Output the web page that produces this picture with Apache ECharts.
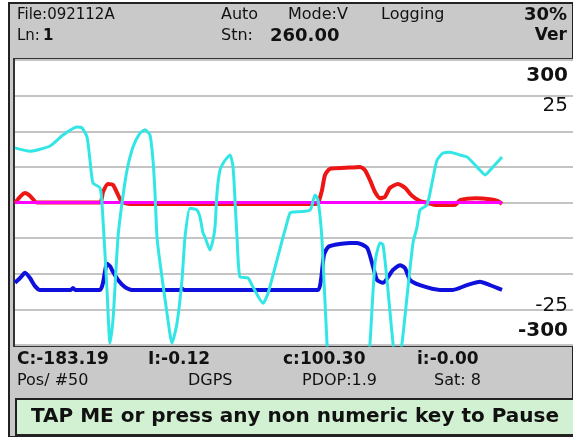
<!DOCTYPE html>
<html><head><meta charset="utf-8">
<script src="https://cdn.jsdelivr.net/npm/echarts@6/dist/echarts.min.js"></script>
<style>html,body{margin:0;padding:0;background:#fff}#c{width:573px;height:437px}</style>
</head><body><div id="c"></div><script>
// ---- data (x = sample position, y = reading) ----
const cyanData = [[0,115],[15,108],[35,119],[48,142],[62,159],[67,157],[72,138],[75,89],[78,41],[85,31],[87,-1],[92,-184],[95,-296],[98,-247],[103,-73],[107,-1],[112,68],[118,117],[125,146],[130,153],[135,142],[138,89],[140,20],[142,-73],[145,-127],[152,-233],[157,-296],[162,-254],[167,-163],[170,-73],[175,-12],[182,-16],[185,-31],[188,-64],[190,-73],[195,-100],[198,-79],[200,-52],[202,20],[205,68],[210,89],[215,100],[218,75],[220,5],[222,-73],[225,-157],[233,-159],[238,-178],[248,-212],[253,-191],[262,-121],[268,-73],[270,-58],[275,-22],[278,-20],[295,-16],[300,16],[303,5],[307,-79],[312,-296],[317,-415],[335,-458],[350,-415],[355,-296],[360,-127],[365,-85],[368,-89],[372,-163],[378,-296],[382,-350],[387,-296],[392,-199],[398,-85],[402,-52],[405,-16],[412,-5],[417,41],[422,89],[428,104],[435,106],[445,100],[452,96],[465,68],[470,58],[478,75],[487,96]];
const redData = [[0,-1],[5,12],[10,20],[15,14],[22,0],[85,0],[88,22],[93,39],[98,37],[103,16],[107,1],[115,-3],[300,-3],[303,-1],[307,26],[310,58],[315,71],[330,73],[345,75],[350,68],[355,47],[360,22],[365,9],[370,12],[375,31],[383,39],[390,31],[397,14],[405,3],[413,-1],[420,-5],[440,-5],[445,5],[460,9],[475,7],[483,3],[487,-3]];
const blueData = [[0,-169],[5,-159],[10,-148],[15,-159],[20,-176],[25,-184],[56,-184],[58,-180],[60,-184],[85,-184],[88,-169],[92,-129],[95,-134],[98,-146],[103,-163],[110,-178],[117,-184],[165,-184],[167,-181],[169,-184],[303,-184],[306,-163],[309,-110],[313,-94],[320,-89],[335,-85],[342,-85],[352,-95],[357,-127],[362,-163],[368,-169],[378,-142],[385,-132],[390,-138],[395,-163],[405,-174],[425,-184],[438,-184],[452,-174],[465,-167],[475,-174],[487,-184]];
const magentaData = [[0,0],[487,0]];
const yTicks = [300, 225, -225, -300];
const yTickText = ['300', '25', '-25', '-300'];
const topRow1 = ['File:092112A', 'Auto', 'Mode:V', 'Logging', '30%'];
const topRow2 = ['Ln:', '1', 'Stn:', '260.00', 'Ver'];
const statRow1 = ['C:-183.19', 'I:-0.12', 'c:100.30', 'i:-0.00'];
const statRow2 = ['Pos/ #50', 'DGPS', 'PDOP:1.9', 'Sat: 8'];
const banner = 'TAP ME or press any non numeric key to Pause';

const FONT = 'DejaVu Sans';
const chart = echarts.init(document.getElementById('c'), null, {renderer: 'canvas'});

function txt(t, x, y, size, bold, align) {
  return {type: 'text', z: 100, style: {text: t, x: x, y: y, fill: '#111',
    font: (bold ? 'bold ' : '') + size + 'px "' + FONT + '"',
    align: align || 'left', textAlign: align || 'left', verticalAlign: 'middle', textVerticalAlign: 'middle'}};
}

const bg = [
  {type: 'rect', z: -30, shape: {x: 9, y: 3, width: 564, height: 434}, style: {fill: '#c9c9c9', stroke: '#222', lineWidth: 2}},
  {type: 'rect', z: -20, shape: {x: 14, y: 59, width: 562, height: 287}, style: {fill: '#ffffff', stroke: '#333', lineWidth: 2}},
  {type: 'rect', z: -20, shape: {x: 16, y: 399, width: 560, height: 36}, style: {fill: '#d2f0d2', stroke: '#222', lineWidth: 2}}
];

const texts = [
  txt(topRow1[0], 17, 15, 15, false), txt(topRow1[1], 221, 15, 16, false), txt(topRow1[2], 288, 15, 16, false),
  txt(topRow1[3], 381, 15, 16, false), txt(topRow1[4], 567, 15, 18, true, 'right'),
  txt(topRow2[0], 17, 36, 15, false), txt(topRow2[1], 43, 36, 15, true), txt(topRow2[2], 221, 36, 16, false),
  txt(topRow2[3], 270, 36, 18, true), txt(topRow2[4], 567, 36, 17, true, 'right'),
  txt(statRow1[0], 17, 360, 17, true), txt(statRow1[1], 148, 360, 17, true), txt(statRow1[2], 283, 360, 17, true), txt(statRow1[3], 417, 360, 17, true),
  txt(statRow2[0], 17, 381, 16, false), txt(statRow2[1], 188, 381, 16, false), txt(statRow2[2], 302, 381, 16, false), txt(statRow2[3], 434, 381, 16, false),
  txt(banner, 295, 417, 20, true, 'center')
];

function line(data, color, width, z) {
  return {type: 'line', data: data, showSymbol: false, symbol: 'none', smooth: 0.2, z: z,
    clip: true, lineStyle: {color: color, width: width}, animation: false};
}

chart.setOption({
  animation: false,
  backgroundColor: '#ffffff',
  grid: {left: 15, right: 0, top: 60, bottom: 92, containLabel: false},
  xAxis: {type: 'value', min: 0, max: 558, show: false},
  yAxis: {type: 'value', min: -300, max: 300, interval: 75,
    axisLine: {show: false}, axisTick: {show: false}, axisLabel: {show: false},
    splitLine: {show: true, lineStyle: {color: '#c4c4c4', width: 2}}},
  series: [
    line(redData, '#ee1515', 4, 2),
    line(magentaData, '#ff00ff', 3, 3),
    line(blueData, '#1010dd', 4, 4),
    line(cyanData, '#33e6e6', 3, 5)
  ],
  graphic: bg.concat(texts)
});

const yLabs = yTicks.map(function (v, i) {
  const py = chart.convertToPixel({yAxisIndex: 0}, v);
  const off = v === 300 ? 16 : v === 225 ? 10 : v === -225 ? -4 : -14;
  return txt(yTickText[i], 568, py + off, 20, Math.abs(v) === 300, 'right');
});
chart.setOption({graphic: bg.concat(texts, yLabs)});
</script></body></html>
